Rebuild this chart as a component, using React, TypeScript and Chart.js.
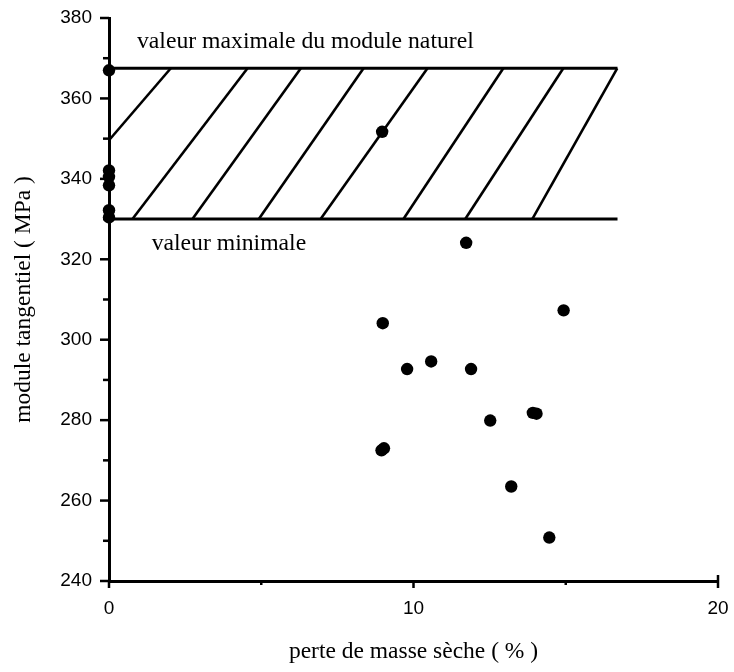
import React, { useEffect, useRef } from "react";
import { Chart, registerables } from "chart.js";

Chart.register(...registerables);

// ---- data ----
const lossPct = [0, 0, 0, 0, 0, 0, 8.97, 11.73, 14.93, 8.99, 9.79, 10.58, 11.89, 12.52, 13.92, 14.04, 8.95, 9.03, 13.21, 14.46];
const modulus = [367, 342.1, 340.5, 338.4, 332.2, 330.4, 351.7, 324.1, 307.3, 304.1, 292.7, 294.6, 292.7, 279.9, 281.8, 281.6, 272.5, 273.0, 263.5, 250.8];

const bandMin = 330;
const bandMax = 367.5;
const bandStartX = 0;
const bandEndX = 16.7;

const hatchX0 = [0, 0.77, 2.74, 4.92, 6.95, 9.67, 11.7, 13.9];
const hatchY0 = [349.6, 330, 330, 330, 330, 330, 330, 330];
const hatchX1 = [2.03, 4.55, 6.3, 8.36, 10.46, 12.95, 14.92, 16.69];
const hatchY1 = [367.5, 367.5, 367.5, 367.5, 367.5, 367.5, 367.5, 367.5];

const xLabelTicks = [0, 10, 20];
const xMarkTicks = [0, 5, 10, 15, 20];
const yLabelTicks = [240, 260, 280, 300, 320, 340, 360, 380];
const yMarkTicks = [240, 250, 260, 270, 280, 290, 300, 310, 320, 330, 340, 350, 360, 370, 380];

const labelMax = "valeur maximale du module naturel";
const labelMin = "valeur minimale";
const xTitle = "perte de masse sèche ( % )";
const yTitle = "module tangentiel ( MPa )";

const SERIF = "'Liberation Serif', 'Times New Roman', serif";
const SANS = "'Liberation Sans', Arial, sans-serif";

const overlayPlugin = {
  id: "overlay",
  afterDraw(chart: any) {
    const { ctx, chartArea } = chart;
    const xs = chart.scales.x;
    const ys = chart.scales.y;
    ctx.save();
    ctx.strokeStyle = "#000";
    ctx.lineWidth = 2.5;
    // y tick marks
    yMarkTicks.forEach((v) => {
      const py = ys.getPixelForValue(v);
      const len = v % 20 === 0 ? 9 : 6;
      ctx.beginPath();
      ctx.moveTo(chartArea.left - len, py);
      ctx.lineTo(chartArea.left, py);
      ctx.stroke();
    });
    // x tick marks
    xMarkTicks.forEach((v) => {
      const px = xs.getPixelForValue(v);
      const len = v % 10 === 0 ? 7 : 4;
      ctx.beginPath();
      ctx.moveTo(px, chartArea.bottom - (v === 20 ? 6 : 0));
      ctx.lineTo(px, chartArea.bottom + len);
      ctx.stroke();
    });
    // annotation texts
    ctx.fillStyle = "#000";
    ctx.font = `23.7px ${SERIF}`;
    ctx.textBaseline = "alphabetic";
    ctx.textAlign = "left";
    ctx.fillText(labelMax, xs.getPixelForValue(0.92), ys.getPixelForValue(372.5));
    ctx.fillText(labelMin, xs.getPixelForValue(1.4), ys.getPixelForValue(322.2));
    ctx.restore();
  },
};

export default function App() {
  const ref = useRef<HTMLCanvasElement | null>(null);

  useEffect(() => {
    document.body.style.margin = "0";
    const canvas = ref.current;
    if (!canvas) return;

    const hatchSets = hatchX0.map((x0, i) => ({
      type: "line" as const,
      data: [
        { x: x0, y: hatchY0[i] },
        { x: hatchX1[i], y: hatchY1[i] },
      ],
      borderColor: "#000",
      borderWidth: 2.6,
      pointRadius: 0,
      showLine: true,
      fill: false,
      clip: false as any,
    }));

    const bandSets = [bandMin, bandMax].map((yv) => ({
      type: "line" as const,
      data: [
        { x: bandStartX, y: yv },
        { x: bandEndX, y: yv },
      ],
      borderColor: "#000",
      borderWidth: 3,
      pointRadius: 0,
      showLine: true,
      fill: false,
      clip: false as any,
    }));

    const chart = new Chart(canvas, {
      type: "scatter",
      data: {
        datasets: [
          {
            data: lossPct.map((x, i) => ({ x, y: modulus[i] })),
            backgroundColor: "#000",
            borderColor: "#000",
            borderWidth: 0,
            pointRadius: 6.2,
            clip: false as any,
          } as any,
          ...bandSets,
          ...hatchSets,
        ],
      },
      options: {
        animation: false,
        responsive: false,
        devicePixelRatio: 1,
        layout: { padding: { left: 0, top: 18, right: 16, bottom: 0 } },
        plugins: { legend: { display: false }, tooltip: { enabled: false } },
        scales: {
          x: {
            type: "linear",
            min: 0,
            max: 20,
            afterFit: (s: any) => {
              s.height = 91;
              s.paddingLeft = 0;
              s.paddingRight = 0;
            },
            afterBuildTicks: (s: any) => {
              s.ticks = xLabelTicks.map((v) => ({ value: v }));
            },
            grid: { display: false, drawTicks: false },
            border: { display: true, color: "#000", width: 3 },
            ticks: {
              padding: 16,
              color: "#000",
              font: { family: SANS, size: 19 },
              callback: (v: any) => String(v),
            },
            title: {
              display: true,
              text: xTitle,
              color: "#000",
              font: { family: SERIF, size: 23.5 },
              padding: { top: 0, bottom: 6 },
            },
          },
          y: {
            type: "linear",
            min: 240,
            max: 380,
            afterFit: (s: any) => {
              s.width = 109;
              s.paddingTop = 0;
              s.paddingBottom = 0;
            },
            afterBuildTicks: (s: any) => {
              s.ticks = yLabelTicks.map((v) => ({ value: v }));
            },
            grid: { display: false, drawTicks: false },
            border: { display: true, color: "#000", width: 3 },
            ticks: {
              padding: 17,
              color: "#000",
              font: { family: SANS, size: 19 },
              callback: (v: any) => String(v),
            },
            title: {
              display: true,
              text: yTitle,
              color: "#000",
              font: { family: SERIF, size: 23.5 },
              padding: { top: 10, bottom: 0 },
            },
          },
        },
      },
      plugins: [overlayPlugin],
    });

    return () => chart.destroy();
  }, []);

  return <canvas ref={ref} width={734} height={672} style={{ display: "block" }} />;
}
